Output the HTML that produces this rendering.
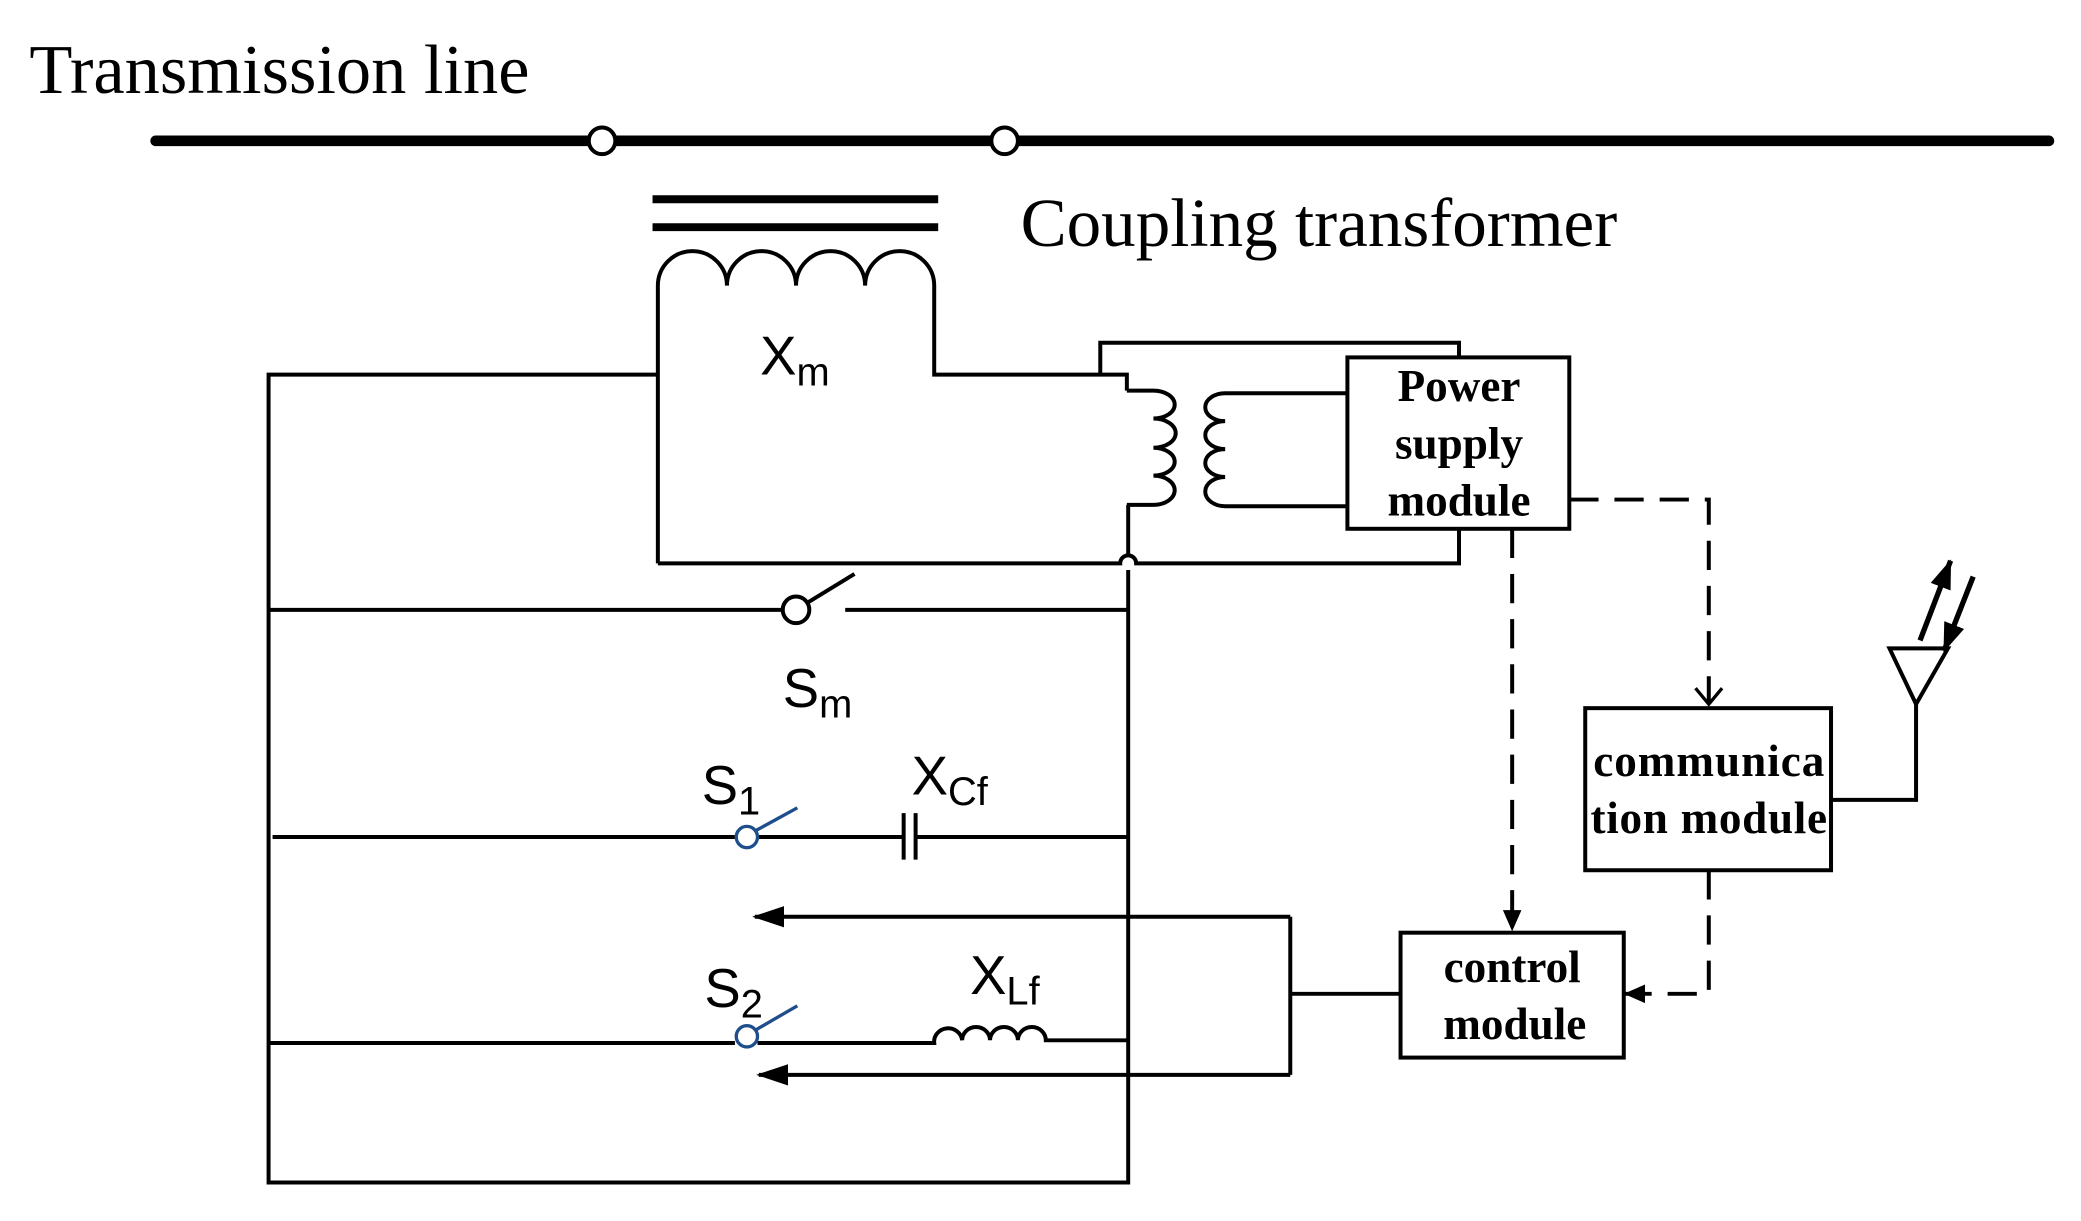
<!DOCTYPE html>
<html><head><style>html,body{margin:0;padding:0;background:#fff;}svg{display:block}</style></head>
<body>
<svg width="2081" height="1221" viewBox="0 0 1566 919" xmlns="http://www.w3.org/2000/svg">
<defs>
<marker id="fa" markerWidth="16" markerHeight="14" refX="15" refY="7" orient="auto" markerUnits="userSpaceOnUse"><path d="M0,0 L16,7 L0,14 z" fill="#000"/></marker>
<marker id="aa" markerWidth="22" markerHeight="16" refX="21" refY="8" orient="auto" markerUnits="userSpaceOnUse"><path d="M0,0 L22,8 L0,16 z" fill="#000"/></marker>
<marker id="ba" markerWidth="24" markerHeight="16" refX="22" refY="8" orient="auto" markerUnits="userSpaceOnUse"><path d="M0,0 L24,8 L0,16 z" fill="#000"/></marker>
</defs>
<g font-family="'Liberation Serif', serif">
<text x="22" y="70" font-size="53">Transmission line</text>
<text x="768" y="185" font-size="52">Coupling transformer</text>
</g>
<g fill="none" stroke="#000" stroke-width="3">
<line x1="117" y1="106" x2="1542" y2="106" stroke-width="8" stroke-linecap="round"/>
<line x1="491" y1="150" x2="706" y2="150" stroke-width="6"/>
<line x1="491" y1="171" x2="706" y2="171" stroke-width="6"/>
<path d="M495,424 V215 A26,26 0 0 1 547,215 A26,26 0 0 1 599,215 A26,26 0 0 1 651,215 A26,26 0 0 1 703,215 V282 H848 V294"/>
<path d="M495,282 H202 V890 H849 V429 M849,419 V380"/>
<path d="M495,424 H843 A6,6 0 0 1 855,424 H1098 V398"/>
<path d="M828,282 V258 H1098 V269"/>
<path d="M848,294 H868 A16,10.5 0 0 1 868,315 A16,10.5 0 0 1 868,337 A16,10.5 0 0 1 868,358 A16,11 0 0 1 868,380 H848"/>
<path d="M1014,296 H922 A15,10.5 0 0 0 922,317 A15,10.5 0 0 0 922,338 A15,10.5 0 0 0 922,359 A15,11 0 0 0 922,381 H1014"/>
<rect x="1014" y="269" width="167" height="129"/>
<rect x="1193" y="533" width="185" height="122"/>
<rect x="1054" y="702" width="168" height="94"/>
<line x1="202" y1="459" x2="590" y2="459"/>
<circle cx="599" cy="459" r="10"/>
<line x1="607" y1="454" x2="643" y2="432"/>
<line x1="636" y1="459" x2="849" y2="459"/>
<line x1="205" y1="630" x2="553" y2="630"/>
<line x1="570" y1="630" x2="680" y2="630"/>
<line x1="680" y1="612" x2="680" y2="647"/>
<line x1="689" y1="612" x2="689" y2="647"/>
<line x1="689" y1="630" x2="849" y2="630"/>
<line x1="202" y1="785" x2="553" y2="785"/>
<path d="M570,785 H703 A10.5,10 0 0 1 724,783 A10.5,10 0 0 1 745,783 A10.5,10 0 0 1 766,783 A10.5,10 0 0 1 787,783 H849"/>
<line x1="971" y1="690" x2="568" y2="690" marker-end="url(#ba)"/>
<path d="M971,690 V809"/>
<line x1="971" y1="809" x2="571" y2="809" marker-end="url(#ba)"/>
<line x1="971" y1="748" x2="1054" y2="748"/>
<path d="M1181,376 H1286 V528" stroke-dasharray="22,12"/>
<path d="M1276,518 L1286,530 L1296,518" stroke-width="2.5"/>
<line x1="1138" y1="398" x2="1138" y2="700" stroke-dasharray="22,12" marker-end="url(#fa)"/>
<path d="M1286,655 V748 H1223" stroke-dasharray="22,12" marker-end="url(#fa)"/>
<path d="M1378,602 H1442 V528"/>
<path d="M1422,488 H1466 L1442,530 Z"/>
<line x1="1445" y1="482" x2="1468" y2="422" stroke-width="4" marker-end="url(#aa)"/>
<line x1="1485" y1="434" x2="1463" y2="490" stroke-width="4" marker-end="url(#aa)"/>
</g>
<g fill="none" stroke="#1f4e8c" stroke-width="2.5">
<circle cx="562" cy="630" r="8"/>
<line x1="569" y1="625" x2="600" y2="608"/>
<circle cx="562" cy="780" r="8"/>
<line x1="569" y1="775" x2="600" y2="757"/>
</g>
<circle cx="453" cy="106" r="10" fill="#fff" stroke="#000" stroke-width="3"/>
<circle cx="756" cy="106" r="10" fill="#fff" stroke="#000" stroke-width="3"/>
<g font-family="'Liberation Sans', sans-serif" font-size="41">
<text x="572" y="282">X<tspan font-size="30" dy="8">m</tspan></text>
<text x="589" y="532">S<tspan font-size="30" dy="8">m</tspan></text>
<text x="528" y="605">S<tspan font-size="30" dy="8">1</tspan></text>
<text x="686" y="598">X<tspan font-size="30" dy="8">Cf</tspan></text>
<text x="530" y="758">S<tspan font-size="30" dy="8">2</tspan></text>
<text x="730" y="748">X<tspan font-size="30" dy="8">Lf</tspan></text>
</g>
<g font-family="'Liberation Serif', serif" font-size="34" font-weight="bold" text-anchor="middle">
<text x="1098" y="302">Power</text>
<text x="1098" y="345">supply</text>
<text x="1098" y="388">module</text>
<text x="1286" y="584" textLength="174">communica</text>
<text x="1286" y="627" textLength="178">tion module</text>
<text x="1138" y="739">control</text>
<text x="1140" y="782">module</text>
</g>
</svg>
</body></html>
